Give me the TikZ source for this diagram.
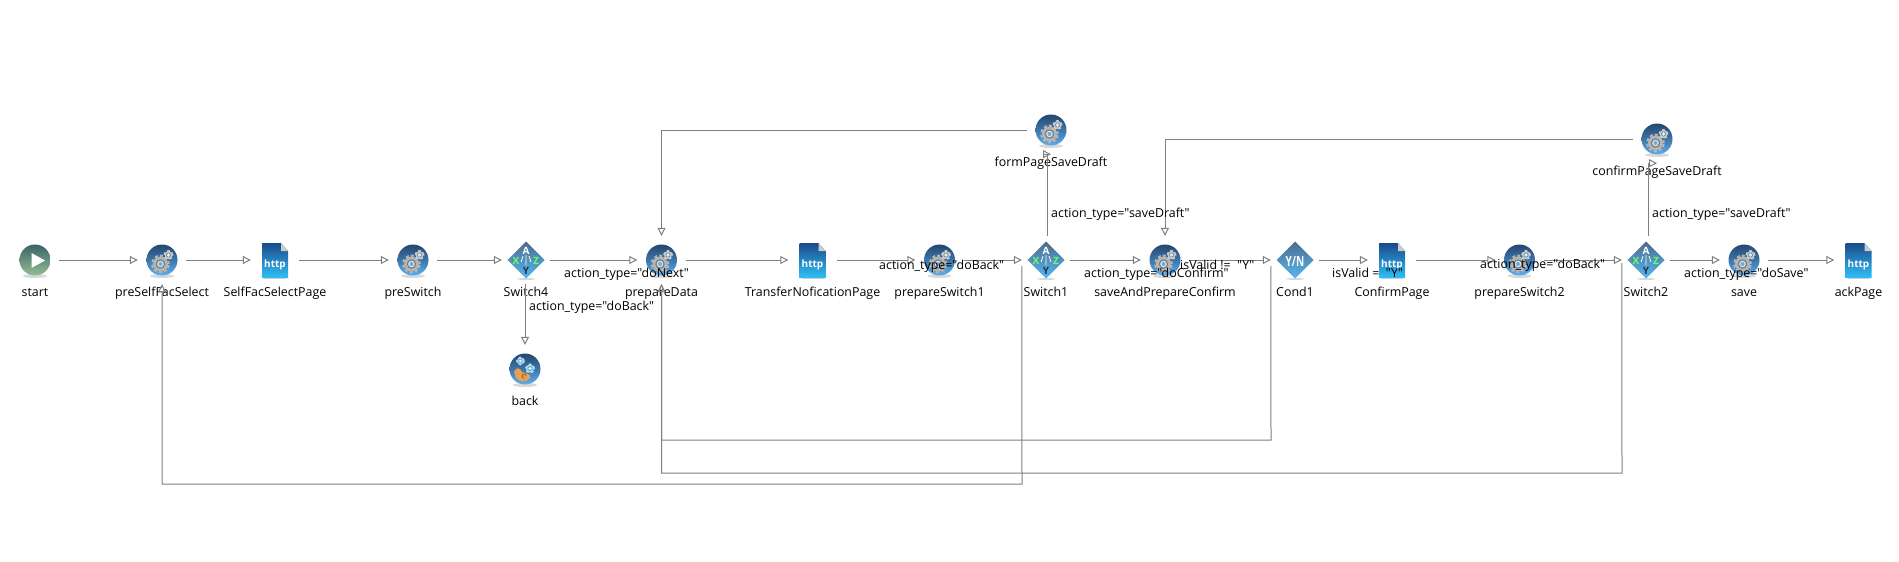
\documentclass[tikz,border=0pt]{standalone}
\usepackage{fontspec}
\newfontfamily\flowfont{Open Sans}
\usepackage{tikz}
\usetikzlibrary{arrows.meta}

\definecolor{wireGray}{HTML}{808080}
\definecolor{ballTop}{HTML}{24466F}
\definecolor{ballBottom}{HTML}{5CB0F0}
\definecolor{gearBody}{HTML}{B4B4B4}
\definecolor{gearPale}{HTML}{C4CCD2}
\definecolor{gearBlue}{HTML}{A8E0F8}
\definecolor{backOrange}{HTML}{E8A050}
\definecolor{startTop}{HTML}{3A6468}
\definecolor{startBottom}{HTML}{95BC95}
\definecolor{pageTop}{HTML}{1A4A8A}
\definecolor{pageMid}{HTML}{1072C4}
\definecolor{pageBottom}{HTML}{30C0F8}

\newcommand{\gearAt}[4]{% centre x, centre y, radius, colour
  \draw[#4,line width=0.5*#3*1pt,dash pattern=on 2.6pt off 2.2pt] (#1,#2) circle (#3*1pt);
  \fill[#4] (#1,#2) circle (#3*1pt);
  \fill[#4!65!black] (#1,#2) circle (0.62*#3*1pt);
  \fill[#4!40!white] (#1,#2) circle (0.45*#3*1pt);
}

\tikzset{
  ball/.style={top color=ballTop,bottom color=ballBottom,middle color=ballTop!55!ballBottom},
  iconletter/.style={font=\flowfont\fontsize{#1}{#1}\selectfont\bfseries,inner sep=0pt},
  gearicon/.pic={
    \fill[black!15] (0,16) ellipse (12pt and 2pt);
    \shade[ball] (0,0) circle (15.5pt);
    \gearAt{-1.5}{4}{7.5}{gearBody}
    \fill[ballBottom] (-1.5,4) circle (2pt);
    \gearAt{6.5}{-5}{4}{gearPale}
  },
  backicon/.pic={
    \fill[black!15] (0,16) ellipse (12pt and 2pt);
    \shade[ball] (0,0) circle (15.5pt);
    \gearAt{-4.5}{-8}{3.5}{gearBlue}
    \gearAt{5}{-0.5}{4}{gearBlue}
    \fill[backOrange] (-11,3) .. controls (-9,-2) and (-5,-2) .. (-3,3)
      .. controls (2,5) and (6,5) .. (5,9) .. controls (2,14) and (-7,13) .. (-9,9) -- cycle;
    \draw[backOrange!50!black,line width=0.6pt] (1,7) arc (0:270:2pt);
  },
  starticon/.pic={
    \fill[black!15] (0,16) ellipse (12pt and 2pt);
    \shade[top color=startTop,bottom color=startBottom] (0,0) circle (15.5pt);
    \fill[white] (-3.5,-7) -- (10,0.5) -- (-3.5,8) -- cycle;
  },
  httpicon/.pic={
    \fill[black!15] (-11,18) rectangle (11,19);
    \shade[top color=pageTop,middle color=pageMid,bottom color=pageBottom]
      (-13,-17) -- (6,-17) -- (13,-9) -- (13,18) -- (-13,18) -- cycle;
    \fill[black!20] (6,-17) -- (13,-9) -- (6,-9) -- cycle;
    \node[iconletter=10,text=white] (-txt) at (0,5) {http};
  },
  switchicon/.pic={
    \fill[black!15] (0,19) ellipse (9pt and 1pt);
    \shade[top color=ballTop!80!white,bottom color=ballBottom!90!cyan]
      (0,-18.5) -- (18.5,0) -- (0,18.5) -- (-18.5,0) -- cycle;
    \draw[white,line width=0.8pt] (0,-5) -- (0,5) (-3,-4) -- (-5,2) (3,-4) -- (5,2);
    \node[iconletter=10,text=white] (-a) at (0,-9) {A};
    \node[iconletter=10,text=green!60!white] (-x) at (-10,1) {X};
    \node[iconletter=10,text=green!60!white] (-z) at (10,1) {Z};
    \node[iconletter=10,text=ballTop!70!black] (-y) at (0,11) {Y};
  },
  condicon/.pic={
    \fill[black!15] (0,19) ellipse (9pt and 1pt);
    \shade[top color=ballTop!80!white,bottom color=ballBottom!90!cyan]
      (0,-18.5) -- (18.5,0) -- (0,18.5) -- (-18.5,0) -- cycle;
    \node[iconletter=14,text=white,xscale=0.72,transform shape] (-t) at (0,1) {Y/N};
  },
  stepbox/.style={minimum size=48pt,inner sep=0pt},
  steplabel/.style={inner sep=3pt,text height=9pt,text depth=3pt,font=\flowfont\fontsize{12.4}{14}\selectfont},
  edgelabel/.style={anchor=west,inner sep=0pt,text height=9pt,text depth=3pt,font=\flowfont\fontsize{12.4}{14}\selectfont},
  flow/.style={draw=wireGray,line width=1pt,-{Triangle[open,length=8pt,width=8pt]}}
}

\begin{document}
\begin{tikzpicture}[x=1pt,y=-1pt]

\path[use as bounding box,fill=white] (0,0) rectangle (1899,562);

% Main row
\pic (startIcon) at (35,260) {starticon};
\node[stepbox,label={[steplabel]below:start}] (start) at (35,260) {};
\pic (preSelfIcon) at (162,260) {gearicon};
\node[stepbox,label={[steplabel]below:preSelfFacSelect}] (preSelfFacSelect) at (162,260) {};
\pic (selfPageIcon) at (275,260) {httpicon};
\node[stepbox,label={[steplabel]below:SelfFacSelectPage}] (SelfFacSelectPage) at (275,260) {};
\pic (preSwitchIcon) at (413,260) {gearicon};
\node[stepbox,label={[steplabel]below:preSwitch}] (preSwitch) at (413,260) {};
\pic (switchFourIcon) at (526,260) {switchicon};
\node[stepbox,label={[steplabel]below:Switch4}] (Switch4) at (526,260) {};
\pic (prepareIcon) at (661.5,260) {gearicon};
\node[stepbox,label={[steplabel]below:prepareData}] (prepareData) at (661.5,260) {};
\pic (transferIcon) at (812.5,260) {httpicon};
\node[stepbox,label={[steplabel]below:TransferNoficationPage}] (TransferPage) at (812.5,260) {};
\pic (prepOneIcon) at (939.5,260) {gearicon};
\node[stepbox,label={[steplabel]below:prepareSwitch1}] (prepareSwitch1) at (939.5,260) {};
\pic (switchOneIcon) at (1046,260) {switchicon};
\node[stepbox,label={[steplabel]below:Switch1}] (Switch1) at (1046,260) {};
\pic (saveConfirmIcon) at (1165,260) {gearicon};
\node[stepbox,label={[steplabel]below:saveAndPrepareConfirm}] (saveAndPrepareConfirm) at (1165,260) {};
\pic (condIcon) at (1295,260) {condicon};
\node[stepbox,label={[steplabel]below:Cond1}] (Cond1) at (1295,260) {};
\pic (confirmIcon) at (1392,260) {httpicon};
\node[stepbox,label={[steplabel]below:ConfirmPage}] (ConfirmPage) at (1392,260) {};
\pic (prepTwoIcon) at (1519.5,260) {gearicon};
\node[stepbox,label={[steplabel]below:prepareSwitch2}] (prepareSwitch2) at (1519.5,260) {};
\pic (switchTwoIcon) at (1646,260) {switchicon};
\node[stepbox,label={[steplabel]below:Switch2}] (Switch2) at (1646,260) {};
\pic (saveIcon) at (1744,260) {gearicon};
\node[stepbox,label={[steplabel]below:save}] (save) at (1744,260) {};
\pic (ackIcon) at (1858.5,260) {httpicon};
\node[stepbox,label={[steplabel]below:ackPage}] (ackPage) at (1858.5,260) {};

% Off-row steps
\pic (backIcon) at (525,369) {backicon};
\node[stepbox,label={[steplabel]below:back}] (back) at (525,369) {};
\pic (formDraftIcon) at (1051,130) {gearicon};
\node[stepbox,label={[steplabel]below:formPageSaveDraft}] (formPageSaveDraft) at (1051,130) {};
\pic (confirmDraftIcon) at (1657,139) {gearicon};
\node[stepbox,label={[steplabel]below:confirmPageSaveDraft}] (confirmPageSaveDraft) at (1657,139) {};

% Forward connectors
\draw[flow] (start) -- (preSelfFacSelect);
\draw[flow] (preSelfFacSelect) -- (SelfFacSelectPage);
\draw[flow] (SelfFacSelectPage) -- (preSwitch);
\draw[flow] (preSwitch) -- (Switch4);
\draw[flow] (Switch4) -- (prepareData);
\draw[flow] (back.north |- Switch4.south) -- (back.north);
\draw[flow] (prepareData) -- (TransferPage);
\draw[flow] (TransferPage) -- (prepareSwitch1);
\draw[flow] (prepareSwitch1) -- (Switch1);
\draw[flow] (Switch1) -- (saveAndPrepareConfirm);
\draw[flow] (saveAndPrepareConfirm) -- (Cond1);
\draw[flow] (Cond1) -- (ConfirmPage);
\draw[flow] (ConfirmPage) -- (prepareSwitch2);
\draw[flow] (prepareSwitch2) -- (Switch2);
\draw[flow] (Switch2) -- (save);
\draw[flow] (save) -- (ackPage);

% Draft branches
\draw[flow] ([xshift=1pt]Switch1.north) |- ([xshift=-8pt]formPageSaveDraft.south) -- (formPageSaveDraft.south);
\draw[flow] (formPageSaveDraft.west) -| (prepareData.north);
\draw[flow] ([xshift=2pt]Switch2.north) |- ([xshift=-8pt]confirmPageSaveDraft.south) -- (confirmPageSaveDraft.south);
\draw[flow] (confirmPageSaveDraft.west) -| (saveAndPrepareConfirm.north);

% Return loops
\coordinate (loopOne) at (1022,484);
\coordinate (loopTwo) at (1622,473);
\coordinate (loopThree) at (1271,440);
\draw[flow] ([yshift=-6pt]Switch1.west) -- (loopOne) -| (preSelfFacSelect.south);
\draw[flow] ([yshift=-3pt]Switch2.west) -- (loopTwo) -| (prepareData.south);
\draw[flow] ([yshift=-6pt]Cond1.west) -- (loopThree) -| (prepareData.south);

% Branch conditions
\node[edgelabel] (doNextLbl) at (564,274) {action\_type="doNext"};
\node[edgelabel] (doBackFourLbl) at (529,307) {action\_type="doBack"};
\node[edgelabel] (doBackOneLbl) at (879,266) {action\_type="doBack"};
\node[edgelabel] (draftOneLbl) at (1051,214) {action\_type="saveDraft"};
\node[edgelabel] (doConfirmLbl) at (1084,274) {action\_type="doConfirm"};
\node[edgelabel] (notValidLbl) at (1180,266) {isValid != \ "Y"};
\node[edgelabel] (validLbl) at (1332,274) {isValid = \ "Y"};
\node[edgelabel] (doBackTwoLbl) at (1480,265) {action\_type="doBack"};
\node[edgelabel] (draftTwoLbl) at (1652,214) {action\_type="saveDraft"};
\node[edgelabel] (doSaveLbl) at (1684,274) {action\_type="doSave"};

\end{tikzpicture}
\end{document}
